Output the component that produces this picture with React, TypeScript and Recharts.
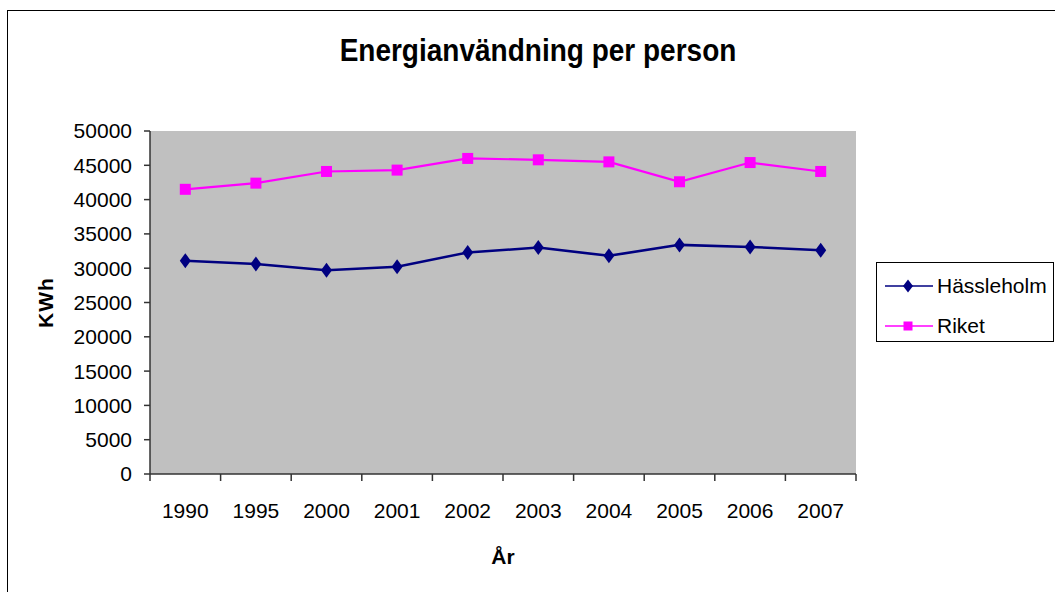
import React from "react";
import { LineChart, Line, XAxis, YAxis, CartesianGrid, Legend, Label } from "recharts";

const years = ["1990", "1995", "2000", "2001", "2002", "2003", "2004", "2005", "2006", "2007"];
const hassleholm = [31100, 30600, 29700, 30200, 32300, 33000, 31800, 33400, 33100, 32600];
const riket = [41500, 42400, 44100, 44300, 46000, 45800, 45500, 42600, 45400, 44100];
const yTicks = [0, 5000, 10000, 15000, 20000, 25000, 30000, 35000, 40000, 45000, 50000];

const data = years.map((year, i) => ({ year, hassleholm: hassleholm[i], riket: riket[i] }));

const FONT = "'Liberation Sans', Arial, sans-serif";
const NAVY = "#000080";
const MAGENTA = "#FF00FF";

// plot box
const PLOT_LEFT = 150;
const PLOT_RIGHT = 856;
const PLOT_TOP = 131;
const PLOT_BOTTOM = 474;
const BAND = (PLOT_RIGHT - PLOT_LEFT) / years.length;

const Diamond = (props: any) => {
  const { cx, cy } = props;
  if (cx == null || cy == null) return null;
  return <polygon points={`${cx},${cy - 7.5} ${cx + 5.5},${cy} ${cx},${cy + 7.5} ${cx - 5.5},${cy}`} fill={NAVY} />;
};

const Square = (props: any) => {
  const { cx, cy } = props;
  if (cx == null || cy == null) return null;
  return <rect x={cx - 5.5} y={cy - 5.5} width={11} height={11} fill={MAGENTA} />;
};

// Excel-style category ticks: tick marks sit between the categories
const YearTick = (props: any) => {
  const { x, payload, index } = props;
  return (
    <g>
      <line x1={x - BAND / 2} x2={x - BAND / 2} y1={PLOT_BOTTOM} y2={PLOT_BOTTOM + 7} stroke="#333" strokeWidth={1.5} />
      {index === years.length - 1 && (
        <line x1={x + BAND / 2} x2={x + BAND / 2} y1={PLOT_BOTTOM} y2={PLOT_BOTTOM + 7} stroke="#333" strokeWidth={1.5} />
      )}
      <text
        x={x}
        y={PLOT_BOTTOM + 44}
        textAnchor="middle"
        fontSize={21}
        fontFamily={FONT}
        fill="#000"
      >
        {payload.value}
      </text>
    </g>
  );
};

const LegendBox = () => (
  <div
    style={{
      border: "1px solid #000",
      background: "#fff",
      width: 178,
      height: 80,
      fontFamily: FONT,
      fontSize: 21,
      boxSizing: "border-box",
      paddingTop: 7,
      whiteSpace: "nowrap",
    }}
  >
    {[
      { name: "Hässleholm", color: NAVY, shape: "diamond" },
      { name: "Riket", color: MAGENTA, shape: "square" },
    ].map((item) => (
      <div key={item.name} style={{ display: "flex", alignItems: "center", height: 31, marginBottom: 9 }}>
        <svg width={52} height={20} style={{ marginLeft: 6 }}>
          <line x1={2} x2={50} y1={10} y2={10} stroke={item.color} strokeWidth={1.5} />
          {item.shape === "diamond" ? (
            <polygon points="25,3.5 30,10 25,16.5 20,10" fill={item.color} />
          ) : (
            <rect x={20.5} y={5.5} width={9} height={9} fill={item.color} />
          )}
        </svg>
        <span style={{ marginLeft: 2 }}>{item.name}</span>
      </div>
    ))}
  </div>
);

export default function App() {
  return (
    <div
      style={{
        position: "absolute",
        left: 0,
        top: 0,
        width: 1055,
        height: 592,
        overflow: "hidden",
        background: "#fff",
      }}
    >
      <div
        style={{
          position: "absolute",
          left: 7,
          top: 10,
          width: 1100,
          height: 640,
          border: "1.5px solid #000",
        }}
      />
      <div
        style={{
          position: "absolute",
          left: 288,
          top: 35,
          width: 500,
          textAlign: "center",
          fontFamily: FONT,
          fontWeight: "bold",
          fontSize: 28,
          transform: "scaleY(1.15)",
        }}
      >
        Energianvändning per person
      </div>
      <div style={{ position: "absolute", left: 0, top: 0 }}>
        <LineChart
          width={1055}
          height={592}
          data={data}
          margin={{ left: 40, right: 1055 - PLOT_RIGHT, top: PLOT_TOP, bottom: 592 - PLOT_BOTTOM - 100 }}
        >
          <CartesianGrid fill="#C0C0C0" horizontal={false} vertical={false} stroke="none" />
          <XAxis
            dataKey="year"
            height={100}
            padding={{ left: BAND / 2, right: BAND / 2 }}
            axisLine={{ stroke: "#333", strokeWidth: 1.5 }}
            tickLine={false}
            tick={<YearTick />}
            interval={0}
          >
            <Label
              content={() => (
                <text
                  x={(PLOT_LEFT + PLOT_RIGHT) / 2}
                  y={PLOT_BOTTOM + 90}
                  textAnchor="middle"
                  fontSize={21}
                  fontWeight="bold"
                  fontFamily={FONT}
                  fill="#000"
                >
                  År
                </text>
              )}
            />
          </XAxis>
          <YAxis
            width={PLOT_LEFT - 40}
            domain={[0, 50000]}
            ticks={yTicks}
            interval={0}
            axisLine={{ stroke: "#333", strokeWidth: 1.5 }}
            tickLine={{ stroke: "#333", strokeWidth: 1.5 }}
            tickSize={6}
            tickMargin={12}
            tick={{ fontSize: 21, fontFamily: FONT, fill: "#000" }}
          >
            <Label
              content={() => (
                <text
                  x={53}
                  y={(PLOT_TOP + PLOT_BOTTOM) / 2}
                  textAnchor="middle"
                  fontSize={21}
                  fontWeight="bold"
                  fontFamily={FONT}
                  fill="#000"
                  letterSpacing={1}
                  transform={`rotate(-90 53 ${(PLOT_TOP + PLOT_BOTTOM) / 2})`}
                >
                  KWh
                </text>
              )}
            />
          </YAxis>
          <Line
            dataKey="hassleholm"
            name="Hässleholm"
            stroke={NAVY}
            strokeWidth={2.5}
            dot={<Diamond />}
            activeDot={false}
            isAnimationActive={false}
          />
          <Line
            dataKey="riket"
            name="Riket"
            stroke={MAGENTA}
            strokeWidth={2.2}
            dot={<Square />}
            activeDot={false}
            isAnimationActive={false}
          />
          <Legend
            layout="horizontal"
            verticalAlign="middle"
            align="center"
            content={() => <LegendBox />}
            wrapperStyle={{ position: "absolute", left: 876, top: 262, width: 178 }}
          />
        </LineChart>
      </div>
    </div>
  );
}
